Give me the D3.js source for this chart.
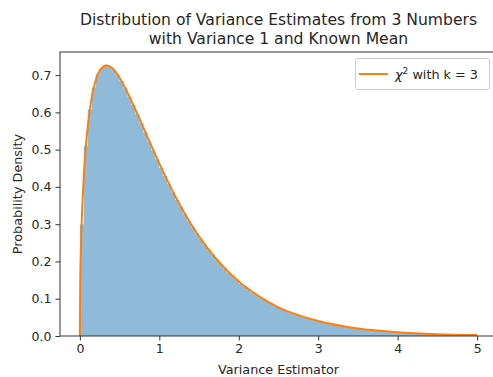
<!DOCTYPE html>
<html>
<head>
<meta charset="utf-8">
<script src="https://cdn.jsdelivr.net/npm/d3@7"></script>
<style>
  body { margin: 0; background: #fff; }
  svg text { font-family: "DejaVu Sans", sans-serif; fill: #262626; }
</style>
</head>
<body>
<div id="chart"></div>
<script>
// histogram: bins of width 0.05 from 0 to 5, heights
const binWidth = 0.05;
const binHeights = [
  0.300, 0.510, 0.608, 0.667, 0.702, 0.720, 0.726, 0.723, 0.714, 0.701,
  0.684, 0.664, 0.642, 0.619, 0.595, 0.571, 0.546, 0.522, 0.498, 0.474,
  0.451, 0.429, 0.407, 0.386, 0.365, 0.346, 0.327, 0.309, 0.292, 0.275,
  0.260, 0.245, 0.231, 0.217, 0.205, 0.193, 0.181, 0.170, 0.160, 0.151,
  0.141, 0.133, 0.125, 0.117, 0.110, 0.103, 0.097, 0.091, 0.085, 0.080,
  0.075, 0.070, 0.066, 0.061, 0.057, 0.054, 0.050, 0.047, 0.044, 0.041,
  0.039, 0.036, 0.034, 0.032, 0.030, 0.028, 0.026, 0.024, 0.023, 0.021,
  0.020, 0.018, 0.017, 0.016, 0.015, 0.014, 0.013, 0.012, 0.011, 0.011,
  0.0099, 0.0093, 0.0087, 0.0081, 0.0076, 0.0071, 0.0066, 0.0062, 0.0058, 0.0054,
  0.0051, 0.0047, 0.0044, 0.0041, 0.0039, 0.0036, 0.0034, 0.0032, 0.0030, 0.0028
];

// chi-square curve (k = 3), read at these x positions
const curveX = [0, 0.005, 0.01, 0.02, 0.035, 0.05, 0.075, 0.1, 0.15, 0.2, 0.25, 0.333,
  0.4, 0.5, 0.6, 0.7, 0.8, 0.9, 1.0, 1.2, 1.4, 1.6, 1.8, 2.0, 2.25, 2.5, 2.75, 3.0,
  3.5, 4.0, 4.5, 5.0];
const curveY = [0, 0.146, 0.204, 0.284, 0.368, 0.430, 0.507, 0.564, 0.641, 0.687,
  0.712, 0.726, 0.720, 0.693, 0.653, 0.607, 0.559, 0.510, 0.463, 0.375, 0.300,
  0.238, 0.187, 0.146, 0.107, 0.077, 0.056, 0.040, 0.020, 0.010, 0.005, 0.0026];

const xTicks = [0, 1, 2, 3, 4, 5];
const yTicks = [0, 0.1, 0.2, 0.3, 0.4, 0.5, 0.6, 0.7];

const draw = () => {
  const size = { width: 493, height: 377 };
  const plot = { left: 60, right: 497, top: 52, bottom: 336 };

  const x = d3.scaleLinear().domain([-0.25, 5.25]).range([plot.left, plot.right]);
  const y = d3.scaleLinear().domain([0, 0.762]).range([plot.bottom, plot.top]);

  const svg = d3.select("#chart")
    .append("svg")
    .attr("width", size.width)
    .attr("height", size.height);

  // histogram as a stepped area
  const bins = binHeights.map((h, i) => ({ x0: i * binWidth, h }));
  bins.push({ x0: binHeights.length * binWidth, h: binHeights[binHeights.length - 1] });
  const histArea = d3.area()
    .x(d => x(d.x0))
    .y0(y(0))
    .y1(d => y(d.h))
    .curve(d3.curveStepAfter);
  svg.append("path")
    .datum(bins)
    .attr("d", histArea)
    .attr("fill", "#1f77b4")
    .attr("fill-opacity", 0.5);

  // fitted curve
  const pts = curveX.map((v, i) => [v, curveY[i]]);
  const line = d3.line()
    .x(d => x(d[0]))
    .y(d => y(d[1]))
    .curve(d3.curveMonotoneX);
  svg.append("path")
    .datum(pts)
    .attr("d", line)
    .attr("fill", "none")
    .attr("stroke", "#ff7f0e")
    .attr("stroke-width", 2);

  // axes
  const xAxis = d3.axisBottom(x).tickValues(xTicks).tickFormat(d3.format("d"))
    .tickSizeInner(4.5).tickSizeOuter(0).tickPadding(4);
  const yAxis = d3.axisLeft(y).tickValues(yTicks).tickFormat(d3.format(".1f"))
    .tickSizeInner(4.5).tickSizeOuter(0).tickPadding(4);

  const gx = svg.append("g")
    .attr("transform", `translate(0,${plot.bottom})`)
    .call(xAxis);
  const gy = svg.append("g")
    .attr("transform", `translate(${plot.left},0)`)
    .call(yAxis);
  [gx, gy].forEach(g => {
    g.selectAll("text").attr("font-size", 12.5).attr("fill", "#262626");
    g.selectAll("line").attr("stroke", "#333");
    g.select(".domain").remove();
  });

  // spines
  svg.append("rect")
    .attr("x", plot.left)
    .attr("y", plot.top)
    .attr("width", plot.right - plot.left)
    .attr("height", plot.bottom - plot.top)
    .attr("fill", "none")
    .attr("stroke", "#333")
    .attr("stroke-width", 1);

  // title
  const cx = (plot.left + plot.right) / 2;
  svg.append("text")
    .attr("x", cx).attr("y", 25)
    .attr("text-anchor", "middle")
    .attr("font-size", 15.6)
    .text("Distribution of Variance Estimates from 3 Numbers");
  svg.append("text")
    .attr("x", cx).attr("y", 44)
    .attr("text-anchor", "middle")
    .attr("font-size", 15.6)
    .text("with Variance 1 and Known Mean");

  svg.append("text")
    .attr("x", cx).attr("y", 374)
    .attr("text-anchor", "middle")
    .attr("font-size", 12.8)
    .text("Variance Estimator");

  svg.append("text")
    .attr("transform", `translate(21.5,${(plot.top + plot.bottom) / 2}) rotate(-90)`)
    .attr("text-anchor", "middle")
    .attr("font-size", 12.8)
    .text("Probability Density");

  // legend
  const lg = svg.append("g");
  lg.append("rect")
    .attr("x", 355.5).attr("y", 58.5)
    .attr("width", 134).attr("height", 31)
    .attr("rx", 2.5)
    .attr("fill", "#fff")
    .attr("fill-opacity", 0.8)
    .attr("stroke", "#ccc");
  lg.append("line")
    .attr("x1", 359).attr("x2", 388)
    .attr("y1", 74).attr("y2", 74)
    .attr("stroke", "#ff7f0e")
    .attr("stroke-width", 2);
  const lt = lg.append("text")
    .attr("x", 395).attr("y", 78.5)
    .attr("font-size", 12.8);
  lt.append("tspan").attr("font-style", "italic").text("χ");
  lt.append("tspan").attr("font-size", 9).attr("dy", -5).text("2");
  lt.append("tspan").attr("dy", 5).text(" with k = 3");
};

window.onload = draw;
</script>
</body>
</html>
